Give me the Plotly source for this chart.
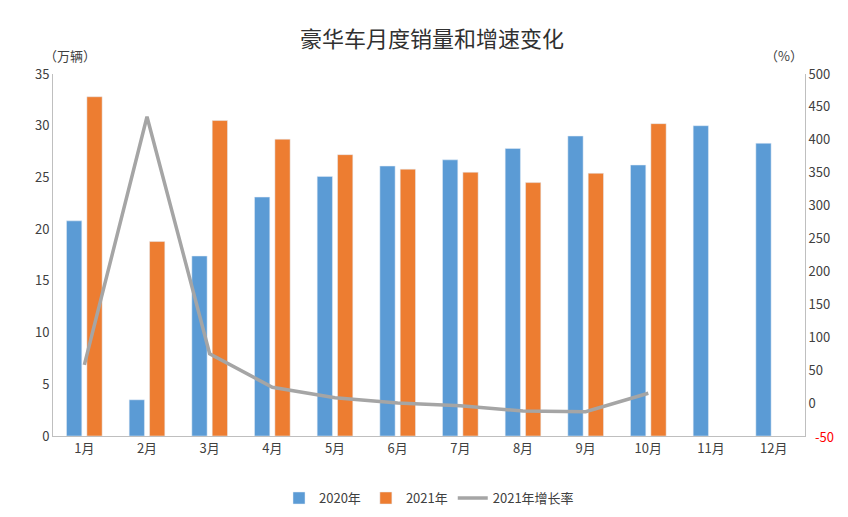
import plotly.graph_objects as go

months = ["1月","2月","3月","4月","5月","6月","7月","8月","9月","10月","11月","12月"]
sales_2020 = [20.8, 3.5, 17.4, 23.1, 25.1, 26.1, 26.7, 27.8, 29.0, 26.2, 30.0, 28.3]
sales_2021 = [32.8, 18.8, 30.5, 28.7, 27.2, 25.8, 25.5, 24.5, 25.4, 30.2]
growth_2021 = [58, 435, 75, 24, 8, 0, -4, -12, -13, 15]

font = "Noto Sans CJK SC"
fig = go.Figure()
fig.add_bar(x=months, y=sales_2020, name="2020年", marker_color="#5B9BD5")
fig.add_bar(x=months[:len(sales_2021)], y=sales_2021, name="2021年", marker_color="#ED7D31")
fig.add_scatter(x=months[:len(growth_2021)], y=growth_2021, name="2021年增长率", mode="lines",
                line=dict(color="#A5A5A5", width=3.5), yaxis="y2")

rt = list(range(-50, 501, 50))
fig.update_layout(
    width=848, height=517, plot_bgcolor="white", paper_bgcolor="white",
    font=dict(family=font, size=13, color="#404040"),
    margin=dict(l=45, r=51, t=66, b=81),
    title=dict(text="豪华车月度销量和增速变化", x=0.5, y=0.955, xanchor="center",
               font=dict(size=22, color="#303030")),
    barmode="group", bargap=0.35, bargroupgap=0.25,
    xaxis=dict(showline=True, linecolor="#BFBFBF", ticks="", showgrid=False),
    yaxis=dict(range=[0, 35], dtick=5, showgrid=False, showline=True, linecolor="#BFBFBF", zeroline=False),
    yaxis2=dict(range=[-50, 500], overlaying="y", side="right", tickvals=rt,
                ticktext=["" if v == -50 else str(v) for v in rt],
                showgrid=False, showline=True, linecolor="#BFBFBF", zeroline=False),
    legend=dict(orientation="h", x=0.5, xanchor="center", y=-0.13, yanchor="top",
                font=dict(size=13)),
    annotations=[
        dict(text="（万辆）", xref="paper", yref="paper", x=-0.015, y=1.02, xanchor="left",
             yanchor="bottom", showarrow=False, font=dict(size=13)),
        dict(text="（%）", xref="paper", yref="paper", x=1.0, y=1.02, xanchor="right",
             yanchor="bottom", showarrow=False, font=dict(size=13)),
        dict(text="-50", xref="paper", yref="y2", x=1.0, y=-50, xanchor="left", xshift=8,
             showarrow=False, font=dict(size=13, color="#FF0000")),
    ],
)
fig.write_html("out.html")
